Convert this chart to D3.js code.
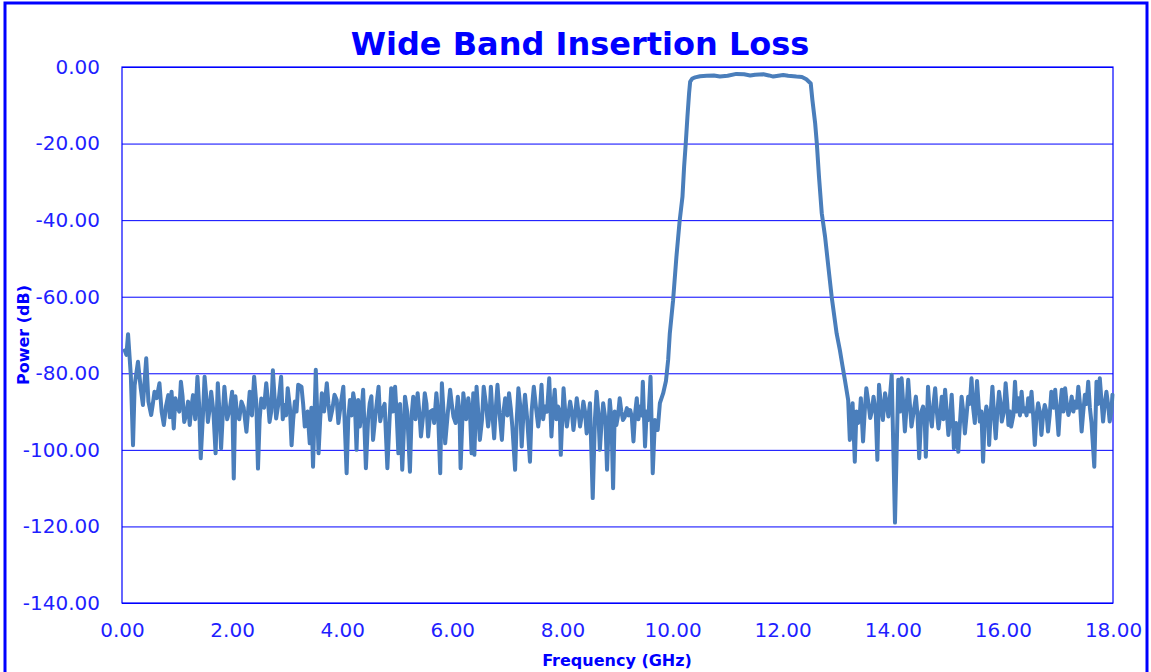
<!DOCTYPE html>
<html>
<head>
<meta charset="utf-8">
<script src="https://cdn.jsdelivr.net/npm/d3@7"></script>
<style>
  html, body { margin: 0; padding: 0; background: #ffffff; }
  svg { display: block; }
</style>
</head>
<body>
<svg id="chart" width="1151" height="672"></svg>
<script>
// ---- Data ----
const chartTitle = "Wide Band Insertion Loss";
const xTitle = "Frequency (GHz)";
const yTitle = "Power (dB)";
const xTickValues = [0, 2, 4, 6, 8, 10, 12, 14, 16, 18];
const yTickValues = [0, -20, -40, -60, -80, -100, -120, -140];

// lower stop band, main peaks and dips [GHz, dB]
const lowStop = [
  [0.05,-74.0],[0.08,-75.2],[0.11,-69.8],[0.16,-80.5],[0.20,-98.8],[0.23,-83.1],[0.29,-77.0],[0.34,-83.9],
  [0.38,-88.3],[0.44,-76.1],[0.48,-87.4],[0.53,-90.9],[0.59,-84.8],[0.68,-82.6],[0.76,-93.5],[0.84,-85.7],
  [0.90,-84.8],[0.94,-94.4],[1.00,-88.3],[1.07,-82.2],[1.13,-92.7],[1.20,-87.4],[1.23,-93.5],[1.29,-85.7],
  [1.37,-80.9],[1.43,-102.2],[1.50,-80.9],[1.56,-92.7],[1.62,-84.8],[1.70,-100.9],[1.74,-82.6],[1.80,-99.6],
  [1.86,-83.5],[1.96,-89.2],[2.00,-84.8],[2.03,-107.5],[2.09,-90.9],[2.17,-87.4],[2.26,-95.3],[2.32,-84.8],
  [2.40,-80.9],[2.47,-104.9],[2.53,-86.6],[2.62,-82.6],[2.68,-92.7],[2.74,-79.2],[2.80,-91.8],[2.89,-80.9],
  [2.95,-88.3],[3.01,-83.9],[3.08,-98.8],[3.14,-87.4],[3.20,-83.0],[3.26,-83.5],[3.32,-93.9],[3.41,-98.3],
  [3.47,-104.4],[3.52,-79.1],[3.57,-100.9],[3.63,-85.2],[3.72,-82.6],[3.78,-92.2],[3.86,-85.6],[3.93,-93.0],
  [4.02,-83.5],[4.08,-106.1],[4.14,-87.0],[4.20,-85.2],[4.26,-100.0],[4.32,-93.9],[4.38,-84.3],[4.43,-104.8],
  [4.50,-87.8],[4.56,-97.4],[4.66,-83.5],[4.73,-89.6],[4.82,-104.8],[4.89,-83.9],[4.96,-83.5],[5.02,-100.9],
  [5.09,-105.2],[5.14,-86.1],[5.23,-105.7],[5.29,-86.1],[5.37,-85.2],[5.43,-96.5],[5.50,-85.2],[5.56,-96.5],
  [5.64,-89.6],[5.71,-85.2],[5.78,-106.1],[5.81,-82.6],[5.87,-98.3],[5.96,-84.3],[6.02,-91.3],[6.10,-86.1],
  [6.15,-104.8],[6.20,-85.2],[6.29,-86.5],[6.35,-100.9],[6.38,-85.2],[6.40,-101.3],[6.44,-83.5],[6.50,-97.4],
  [6.57,-83.5],[6.65,-93.9],[6.70,-83.5],[6.76,-97.0],[6.82,-83.0],[6.90,-97.4],[6.96,-86.5],[7.03,-85.2],
  [7.09,-93.9],[7.14,-105.2],[7.20,-83.9],[7.26,-99.1],[7.32,-85.6],[7.41,-103.1],[7.48,-83.5],[7.56,-93.9],
  [7.62,-83.0],[7.68,-88.7],[7.76,-81.3],[7.80,-96.5],[7.86,-84.3],[7.92,-88.7],[7.97,-101.3],[8.02,-83.9],
  [8.08,-93.9],[8.14,-87.4],[8.20,-94.8],[8.26,-86.5],[8.32,-93.9],[8.38,-87.4],[8.44,-95.7],[8.50,-87.8],
  [8.55,-112.6],[8.62,-84.8],[8.68,-100.0],[8.74,-87.8],[8.81,-105.2],[8.86,-87.0],[8.92,-110.0],[8.98,-93.5],
  [9.04,-86.5],[9.10,-92.2],[9.17,-89.1],[9.23,-89.6],[9.29,-97.8],[9.35,-86.5],[9.41,-88.7],[9.46,-82.2],
  [9.50,-99.1],[9.56,-92.2],[9.60,-80.9],[9.64,-106.1],[9.68,-92.2],[9.73,-94.8],[9.77,-87.8],[9.83,-85.2],
  [9.88,-82.0]
];

// lower stop band, the dense middle texture [GHz, dB]
const lowStopFill = [
  [0.56,-88.0],[0.63,-86.5],[0.72,-90.0],[0.80,-88.5],[0.87,-91.5],[0.97,-86.5],[1.04,-90.0],[1.10,-86.0],
  [1.17,-90.5],[1.26,-89.0],[1.33,-92.0],[1.40,-88.0],[1.47,-91.0],[1.53,-86.0],[1.59,-89.5],[1.66,-90.0],
  [1.77,-90.0],[1.83,-91.0],[1.91,-92.0],[2.06,-86.0],[2.13,-92.0],[2.21,-89.0],[2.29,-90.0],[2.36,-91.0],
  [2.44,-88.0],[2.50,-92.0],[2.58,-89.0],[2.65,-87.0],[2.71,-90.0],[2.77,-86.0],[2.84,-88.0],[2.92,-92.0],
  [2.98,-91.0],[3.05,-89.0],[3.11,-92.0],[3.17,-90.0],[3.29,-88.0],[3.37,-90.0],[3.44,-89.0],[3.60,-92.0],
  [3.67,-90.0],[3.75,-88.0],[3.82,-89.5],[3.90,-87.0],[3.97,-88.5],[4.11,-92.0],[4.17,-91.0],[4.23,-88.0],
  [4.29,-87.0],[4.35,-90.0],[4.47,-92.0],[4.53,-86.0],[4.61,-90.0],[4.69,-92.5],[4.77,-88.0],[4.86,-92.0],
  [4.92,-90.0],[4.99,-91.0],[5.05,-88.0],[5.12,-95.0],[5.18,-90.0],[5.26,-91.0],[5.33,-92.0],[5.40,-90.0],
  [5.47,-91.0],[5.53,-88.0],[5.60,-90.0],[5.67,-93.0],[5.74,-90.0],[5.84,-90.0],[5.92,-90.0],[5.99,-88.0],
  [6.06,-93.0],[6.13,-90.0],[6.18,-93.0],[6.25,-92.0],[6.32,-90.0],[6.47,-90.0],[6.54,-92.0],[6.61,-88.0],
  [6.68,-90.0],[6.73,-91.0],[6.79,-89.0],[6.86,-91.0],[6.93,-90.0],[7.00,-91.0],[7.06,-89.0],[7.17,-92.0],
  [7.23,-88.0],[7.29,-91.0],[7.36,-92.0],[7.44,-90.0],[7.52,-89.0],[7.59,-90.0],[7.65,-92.0],[7.72,-90.0],
  [7.83,-89.0],[7.89,-92.0],[7.95,-90.0],[8.05,-90.0],[8.11,-90.5],[8.17,-90.0],[8.23,-91.0],[8.29,-90.0],
  [8.35,-91.0],[8.41,-90.0],[8.47,-91.5],[8.59,-92.0],[8.65,-90.0],[8.71,-93.0],[8.78,-92.0],[8.84,-93.0],
  [8.89,-92.0],[8.95,-90.0],[9.01,-91.0],[9.07,-90.0],[9.13,-91.5],[9.20,-91.0],[9.26,-91.5],[9.32,-90.5],
  [9.38,-92.0],[9.44,-91.0],[9.53,-90.0]
];

// pass band and skirts [GHz, dB]
const passBand = [
  [9.92,-76.5],[9.95,-69.6],[10.01,-60.9],[10.07,-49.6],[10.13,-40.0],[10.18,-33.9],[10.21,-26.0],[10.24,-19.9],
  [10.27,-13.0],[10.30,-6.9],[10.32,-3.8],[10.36,-3.0],[10.41,-2.7],[10.50,-2.4],[10.62,-2.3],[10.75,-2.2],
  [10.86,-2.5],[11.00,-2.3],[11.16,-1.8],[11.30,-1.9],[11.41,-2.2],[11.50,-2.0],[11.65,-1.9],[11.75,-2.2],
  [11.83,-2.5],[12.01,-2.1],[12.10,-2.3],[12.25,-2.5],[12.35,-2.6],[12.43,-3.2],[12.51,-4.3],[12.54,-8.6],
  [12.59,-14.7],[12.62,-19.9],[12.66,-28.7],[12.71,-38.2],[12.77,-44.3],[12.83,-52.2],[12.89,-60.0],[12.98,-69.6],
  [13.04,-74.0],[13.08,-77.5]
];

// upper stop band, main peaks and dips [GHz, dB]
const highStop = [
  [13.13,-81.7],[13.19,-87.0],[13.22,-97.4],[13.27,-87.8],[13.31,-103.1],[13.37,-93.0],[13.42,-86.5],[13.46,-97.8],
  [13.52,-83.9],[13.59,-91.7],[13.65,-86.1],[13.72,-102.6],[13.75,-83.0],[13.82,-92.2],[13.86,-85.2],[13.92,-91.3],
  [13.98,-80.4],[14.04,-119.0],[14.10,-81.7],[14.16,-81.3],[14.22,-95.2],[14.28,-81.7],[14.34,-93.9],[14.42,-86.1],
  [14.48,-102.2],[14.55,-88.7],[14.60,-101.8],[14.64,-83.5],[14.71,-93.9],[14.77,-83.9],[14.83,-94.4],[14.89,-86.1],
  [14.95,-84.3],[15.01,-96.1],[15.07,-85.6],[15.11,-99.6],[15.19,-100.5],[15.25,-86.1],[15.31,-95.7],[15.37,-86.1],
  [15.43,-81.3],[15.49,-93.0],[15.53,-82.0],[15.58,-92.6],[15.64,-103.1],[15.70,-88.7],[15.75,-98.7],[15.81,-83.5],
  [15.87,-97.0],[15.93,-84.8],[15.98,-92.6],[16.05,-82.6],[16.10,-93.5],[16.15,-93.9],[16.22,-82.2],[16.28,-86.5],
  [16.34,-84.8],[16.40,-89.1],[16.46,-86.5],[16.52,-84.8],[16.58,-98.7],[16.64,-87.8],[16.70,-96.1],[16.76,-88.3],
  [16.82,-95.2],[16.88,-84.8],[16.95,-84.3],[17.01,-96.1],[17.07,-84.3],[17.13,-83.9],[17.19,-90.9],[17.25,-86.1],
  [17.31,-87.4],[17.37,-83.5],[17.43,-95.2],[17.49,-85.6],[17.55,-82.2],[17.61,-93.0],[17.66,-104.4],[17.70,-82.2],
  [17.76,-81.3],[17.82,-92.6],[17.88,-84.8],[17.94,-92.6],[17.99,-85.6]
];

// upper stop band, the dense middle texture [GHz, dB]
const highStopFill = [
  [13.25,-92.0],[13.34,-90.0],[13.40,-91.0],[13.49,-90.0],[13.56,-88.0],[13.62,-90.0],[13.69,-90.0],[13.79,-89.0],
  [13.89,-88.0],[14.13,-90.0],[14.19,-88.0],[14.25,-89.0],[14.31,-88.0],[14.38,-90.0],[14.45,-91.0],[14.52,-90.0],
  [14.58,-92.0],[14.67,-90.0],[14.74,-88.0],[14.80,-90.0],[14.86,-91.0],[14.92,-92.0],[14.98,-90.0],[15.04,-92.0],
  [15.09,-91.0],[15.15,-93.0],[15.22,-93.0],[15.28,-90.0],[15.34,-91.0],[15.40,-88.0],[15.46,-89.0],[15.61,-90.0],
  [15.67,-92.0],[15.73,-91.0],[15.78,-90.0],[15.84,-91.0],[15.90,-90.0],[15.96,-88.0],[16.02,-90.0],[16.08,-88.0],
  [16.13,-90.0],[16.19,-91.0],[16.25,-90.0],[16.31,-91.0],[16.37,-90.0],[16.43,-91.0],[16.49,-90.0],[16.55,-91.0],
  [16.61,-91.0],[16.67,-90.0],[16.73,-91.0],[16.79,-90.0],[16.85,-91.0],[16.92,-89.0],[16.98,-90.0],[17.04,-89.0],
  [17.10,-90.0],[17.16,-88.0],[17.22,-89.0],[17.28,-90.0],[17.34,-89.0],[17.40,-88.0],[17.46,-90.0],[17.52,-88.0],
  [17.58,-89.0],[17.73,-88.0],[17.79,-87.0],[17.85,-88.0],[17.91,-88.0],[17.97,-90.0]
];

// ---- Drawing ----
const series = lowStop.concat(lowStopFill, passBand, highStop, highStopFill)
  .sort((a, b) => a[0] - b[0]);
const svg = d3.select("#chart");
const blue = "#0000ff";
const tickBlue = "#1f1fff";

const plot = { left: 122, right: 1113, top: 67, bottom: 603 };
const x = d3.scaleLinear().domain([0, 18]).range([plot.left, plot.right]);
const y = d3.scaleLinear().domain([-140, 0]).range([plot.bottom, plot.top]);

// outer chart border
svg.append("rect")
  .attr("x", 5).attr("y", 3).attr("width", 1142).attr("height", 690)
  .attr("fill", "none").attr("stroke", blue).attr("stroke-width", 3);

// horizontal gridlines via axis
const gridAxis = d3.axisLeft(y).tickValues(yTickValues)
  .tickSize(-(plot.right - plot.left)).tickFormat("");
const grid = svg.append("g").attr("transform", `translate(${plot.left},0)`).call(gridAxis);
grid.select(".domain").remove();
grid.selectAll(".tick line").attr("stroke", blue).attr("stroke-width", 1);

// plot area border
svg.append("rect")
  .attr("x", plot.left).attr("y", plot.top)
  .attr("width", plot.right - plot.left).attr("height", plot.bottom - plot.top)
  .attr("fill", "none").attr("stroke", blue).attr("stroke-width", 1.2);

// y axis labels
const yAxis = d3.axisLeft(y).tickValues(yTickValues).tickSize(0).tickPadding(22)
  .tickFormat(d => d.toFixed(2));
const yg = svg.append("g").attr("transform", `translate(${plot.left},0)`).call(yAxis);
yg.select(".domain").remove();
yg.selectAll(".tick text")
  .attr("fill", tickBlue)
  .style("font-family", "'DejaVu Sans', Verdana, sans-serif")
  .style("font-size", "20px");

// x axis labels
const xAxis = d3.axisBottom(x).tickValues(xTickValues).tickSize(0).tickPadding(20)
  .tickFormat(d => d.toFixed(2));
const xg = svg.append("g").attr("transform", `translate(0,${plot.bottom})`).call(xAxis);
xg.select(".domain").remove();
xg.selectAll(".tick text")
  .attr("fill", tickBlue)
  .style("font-family", "'DejaVu Sans', Verdana, sans-serif")
  .style("font-size", "20px");

// data line
const line = d3.line().x(d => x(d[0])).y(d => y(d[1]));
svg.append("path")
  .datum(series)
  .attr("d", line)
  .attr("fill", "none")
  .attr("stroke", "#4a7ebb")
  .attr("stroke-width", 4)
  .attr("stroke-linejoin", "round")
  .attr("stroke-linecap", "round");

// title
svg.append("text")
  .attr("x", 580).attr("y", 55)
  .attr("text-anchor", "middle")
  .attr("fill", blue)
  .style("font-family", "'DejaVu Sans', Verdana, sans-serif")
  .style("font-weight", "bold")
  .style("font-size", "32px")
  .text(chartTitle);

// x axis title
svg.append("text")
  .attr("x", 617).attr("y", 666)
  .attr("text-anchor", "middle")
  .attr("fill", blue)
  .style("font-family", "'DejaVu Sans', Verdana, sans-serif")
  .style("font-weight", "bold")
  .style("font-size", "16px")
  .text(xTitle);

// y axis title
svg.append("text")
  .attr("transform", "translate(29,335) rotate(-90)")
  .attr("text-anchor", "middle")
  .attr("fill", blue)
  .style("font-family", "'DejaVu Sans', Verdana, sans-serif")
  .style("font-weight", "bold")
  .style("font-size", "16px")
  .text(yTitle);
</script>
</body>
</html>
